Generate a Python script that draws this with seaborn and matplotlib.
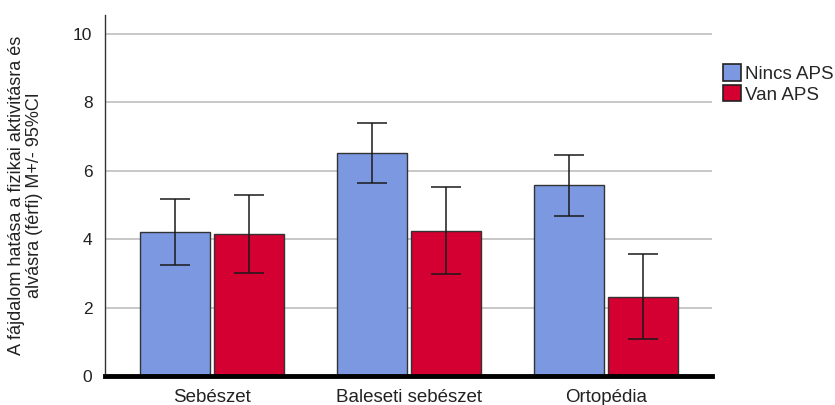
import matplotlib
matplotlib.use("Agg")
import matplotlib.pyplot as plt
import seaborn as sns
import pandas as pd
import numpy as np

# Group means with 95% confidence limits
departments = ["Sebészet", "Baleseti sebészet", "Ortopédia"]
groups = ["Nincs APS", "Van APS"]
mean_nincs = [4.20, 6.53, 5.57]
mean_van = [4.14, 4.23, 2.30]
ci_low_nincs = [3.24, 5.63, 4.69]
ci_high_nincs = [5.16, 7.40, 6.47]
ci_low_van = [3.00, 2.97, 1.08]
ci_high_van = [5.28, 5.51, 3.56]
y_ticks = [0, 2, 4, 6, 8, 10]
y_label = "A fájdalom hatása a fizikai aktivitásra és\nalvásra (férfi) M+/- 95%CI"

colors = {"Nincs APS": "#7b98e0", "Van APS": "#d30031"}

df = pd.DataFrame({
    "Osztály": departments * 2,
    "Csoport": [groups[0]] * 3 + [groups[1]] * 3,
    "Átlag": mean_nincs + mean_van,
})
lows = ci_low_nincs + ci_low_van
highs = ci_high_nincs + ci_high_van

sns.set_theme(style="white")
plt.rcParams["font.family"] = ["Liberation Sans", "DejaVu Sans"]

fig = plt.figure(figsize=(8.35, 4.05), dpi=100)
ax = fig.add_axes([0.1257, 0.0716, 0.8527 - 0.1257, 0.963 - 0.0716])

sns.barplot(data=df, x="Osztály", y="Átlag", hue="Csoport", order=departments,
            hue_order=groups, palette=colors, saturation=1, errorbar=None,
            width=0.75, gap=0.05, edgecolor="#333333", linewidth=1.0, ax=ax,
            zorder=3)

# Confidence intervals centred on each bar
bars = [p for p in ax.patches if p.get_height() > 0][:6]
for bar, lo, hi in zip(bars, lows, highs):
    xc = bar.get_x() + bar.get_width() / 2
    m = bar.get_height()
    ax.errorbar(xc, m, yerr=[[m - lo], [hi - m]], fmt="none", ecolor="#1a1a1a",
                elinewidth=1.1, capsize=11, capthick=1.1, zorder=4)

ax.set_ylim(0, 10.55)
ax.set_xlim(-0.545, 2.54)
ax.set_yticks(y_ticks)
ax.set_yticklabels([str(t) for t in y_ticks], fontsize=12.5, color="#222222")
ax.tick_params(axis="x", labelsize=13.5, length=0, pad=9, labelcolor="#222222")
ax.tick_params(axis="y", length=0, pad=9)
ax.set_xlabel("")
ax.set_ylabel(y_label, fontsize=13, color="#222222", labelpad=22, linespacing=1.02)

ax.yaxis.grid(True, color="#c8c8c8", linewidth=1.4, zorder=0)
ax.xaxis.grid(False)
ax.set_axisbelow(True)

for s in ["top", "right"]:
    ax.spines[s].set_visible(False)
ax.spines["left"].set_color("#333333")
ax.spines["left"].set_linewidth(1.0)
ax.spines["bottom"].set_color("black")
ax.spines["bottom"].set_linewidth(3.5)
ax.spines["bottom"].set_zorder(5)

leg = ax.legend(title=None, loc="upper left", bbox_to_anchor=(1.005, 0.885),
                frameon=False, fontsize=13.5, handlelength=1.0, handleheight=1.0,
                handletextpad=0.2, labelspacing=0.1, borderaxespad=0)
for h in leg.legend_handles:
    h.set_edgecolor("#222222")
    h.set_linewidth(1.2)

fig.savefig("out.png", dpi=100)
